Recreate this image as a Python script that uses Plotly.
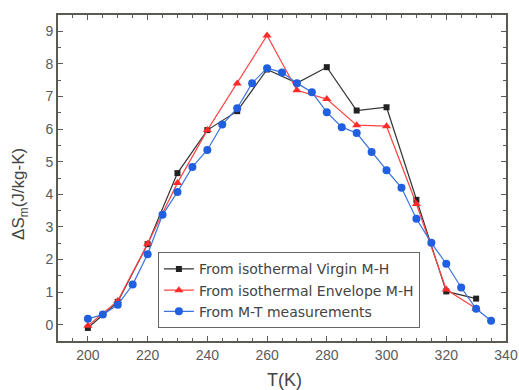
import plotly.graph_objects as go

t_virgin = [200, 210, 220, 230, 240, 250, 260, 270, 280, 290, 300, 310, 320, 330]
s_virgin = [-0.1, 0.7, 2.47, 4.65, 5.97, 6.55, 7.83, 7.41, 7.9, 6.57, 6.67, 3.83, 1.02, 0.8]

t_env = [200, 210, 220, 230, 240, 250, 260, 270, 280, 290, 300, 310, 320, 330]
s_env = [-0.03, 0.73, 2.48, 4.35, 5.97, 7.4, 8.87, 7.19, 6.92, 6.12, 6.09, 3.7, 1.08, 0.5]

t_mt = [200, 205, 210, 215, 220, 225, 230, 235, 240, 245, 250, 255, 260, 265,
        270, 275, 280, 285, 290, 295, 300, 305, 310, 315, 320, 325, 330, 335]
s_mt = [0.18, 0.31, 0.61, 1.23, 2.16, 3.37, 4.07, 4.84, 5.36, 6.14, 6.64, 7.41, 7.87, 7.74,
        7.41, 7.13, 6.52, 6.06, 5.88, 5.3, 4.74, 4.2, 3.25, 2.51, 1.87, 1.14, 0.49, 0.12]

x_ticks = [200, 220, 240, 260, 280, 300, 320, 340]
y_ticks = [0, 1, 2, 3, 4, 5, 6, 7, 8, 9]

FONT = "Arial, Liberation Sans, sans-serif"

fig = go.Figure()
fig.add_trace(go.Scatter(x=t_virgin, y=s_virgin, mode="lines+markers",
                         name="From isothermal Virgin M-H",
                         line=dict(color="#333333", width=1.2),
                         marker=dict(symbol="square", size=6, color="#222222")))
fig.add_trace(go.Scatter(x=t_env, y=s_env, mode="lines+markers",
                         name="From isothermal Envelope M-H",
                         line=dict(color="#ff4545", width=1.2),
                         marker=dict(symbol="triangle-up", size=8, color="#ff2a2a")))
fig.add_trace(go.Scatter(x=t_mt, y=s_mt, mode="lines+markers",
                         name="From M-T measurements",
                         line=dict(color="#3a72e0", width=1.2),
                         marker=dict(symbol="circle", size=8, color="#1f5fe0")))

axis_common = dict(showline=True, linecolor="#5a5a50", linewidth=1.6, mirror="ticks",
                   ticks="inside", ticklen=5, tickcolor="#5a5a50", showgrid=False,
                   zeroline=False, automargin=False,
                   tickfont=dict(family=FONT, size=14, color="#5a5a5a"))

fig.update_xaxes(range=[190, 340], tickvals=x_ticks,
                 minor=dict(ticks="inside", ticklen=3, dtick=5, tickcolor="#5a5a50"),
                 **axis_common)
fig.update_yaxes(range=[-0.5, 9.5], tickvals=y_ticks,
                 minor=dict(ticks="inside", ticklen=3, dtick=0.5, tickcolor="#5a5a50"),
                 **axis_common)

fig.add_annotation(text="T(K)", xref="paper", yref="paper", x=0.505, y=0,
                   xanchor="center", yanchor="middle", yshift=-39, showarrow=False,
                   font=dict(family=FONT, size=18, color="#444444"))
fig.add_annotation(text="ΔS<sub>m</sub>(J/kg-K)", xref="paper", yref="paper", x=0, y=0.451,
                   xanchor="center", yanchor="middle", xshift=-38, textangle=-90, showarrow=False,
                   font=dict(family=FONT, size=17, color="#444444"))

fig.update_layout(
    width=519, height=390,
    margin=dict(l=58, r=13, t=15, b=49),
    plot_bgcolor="white", paper_bgcolor="white",
    legend=dict(x=0.223, y=0.272, xanchor="left", yanchor="top",
                bordercolor="#666666", borderwidth=1, bgcolor="white",
                font=dict(family="DejaVu Sans, Arial, sans-serif", size=14, color="#444444"),
                tracegroupgap=0, itemwidth=30),
)

fig.write_html("out.html", config={"displayModeBar": False},
               post_script="document.body.style.margin='0';document.body.style.overflow='hidden';")
